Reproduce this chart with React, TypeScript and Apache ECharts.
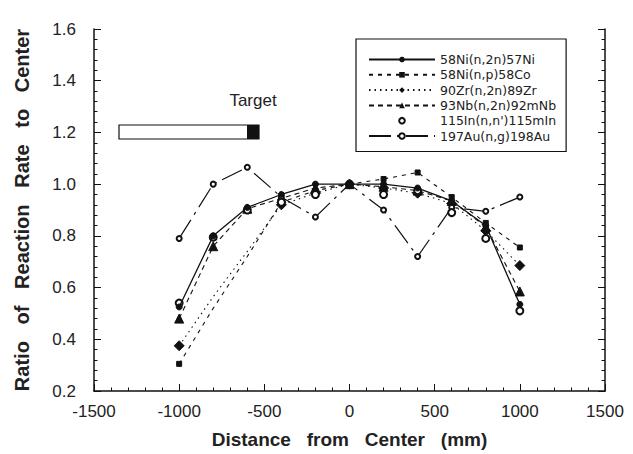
import React, { useEffect, useRef } from "react";
import * as echarts from "echarts";

// Detector positions along the axis (mm)
const positions = [-1000, -800, -600, -400, -200, 0, 200, 400, 600, 800, 1000];

// Reaction-rate ratios, normalised to the centre value
const ni57 = [0.525, 0.8, 0.91, 0.96, 1.0, 1.0, 1.0, 0.985, 0.935, 0.84, 0.535];
const co58 = [0.305, 0.52, 0.72, 0.93, 0.975, 1.0, 1.02, 1.045, 0.95, 0.85, 0.755];
const zr89 = [0.375, 0.565, 0.74, 0.92, 0.965, 1.0, 0.985, 0.965, 0.925, 0.82, 0.685];
const nb92m = [0.48, 0.76, 0.905, 0.945, 0.985, 1.0, 0.99, 0.975, 0.935, 0.835, 0.585];
const in115m = [0.54, 0.795, 0.9, 0.93, 0.96, 1.0, 0.96, 0.975, 0.89, 0.79, 0.51];
const au198 = [0.79, 1.0, 1.065, 0.95, 0.873, 1.0, 0.9, 0.72, 0.91, 0.895, 0.95];

// Curve-only points (drawn without a marker)
const coCurveOnly = [-800, -600];
const zrCurveOnly = [-800, -600];

const reactionNames = [
  "58Ni(n,2n)57Ni",
  "58Ni(n,p)58Co",
  "90Zr(n,2n)89Zr",
  "93Nb(n,2n)92mNb",
  "115In(n,n')115mIn",
  "197Au(n,g)198Au",
];

const xTicks = { min: -1500, max: 1500, step: 500 };
const yTicks = { min: 0.2, max: 1.6, step: 0.2 };

const INK = "#111";
const TEXT = "#222";
const SANS = "'Liberation Sans', Arial, Helvetica, sans-serif";

function toData(values: number[], curveOnly: number[] = []) {
  return positions.map((x, i) =>
    curveOnly.includes(x)
      ? { value: [x, values[i]], symbol: "none" }
      : { value: [x, values[i]] }
  );
}

export default function App() {
  const ref = useRef<HTMLDivElement>(null);

  useEffect(() => {
    if (!ref.current) return;
    const chart = echarts.init(ref.current, undefined, { renderer: "svg" });

    const baseSeries = {
      type: "line",
      xAxisIndex: 0,
      yAxisIndex: 0,
      color: INK,
      itemStyle: { color: INK, borderColor: INK },
      emphasis: { disabled: true },
      z: 3,
    };

    const yAxisCommon = {
      type: "value",
      min: yTicks.min,
      max: yTicks.max,
      interval: yTicks.step,
      axisLine: { show: true, onZero: false, lineStyle: { color: INK, width: 1.5 } },
      axisTick: { inside: true, length: 7, lineStyle: { color: INK } },
      minorTick: { show: true, splitNumber: 5, length: 3.5, lineStyle: { color: INK } },
      splitLine: { show: false },
    };

    const option = {
      animation: false,
      backgroundColor: "#fff",
      grid: { left: 94, right: 28, top: 29, bottom: 57 },
      legend: {
        orient: "vertical",
        left: 356,
        top: 39,
        padding: [14, 10, 9, 12],
        borderColor: INK,
        borderWidth: 1.2,
        itemWidth: 66,
        itemHeight: 7,
        itemGap: 2.3,
        selectedMode: false,
        textStyle: {
          fontFamily: "'DejaVu Sans', Verdana, sans-serif",
          fontSize: 12.5,
          lineHeight: 13,
          color: TEXT,
        },
        data: reactionNames,
      },
      xAxis: {
        type: "value",
        min: xTicks.min,
        max: xTicks.max,
        interval: xTicks.step,
        name: "Distance   from   Center   (mm)",
        nameLocation: "middle",
        nameGap: 39,
        nameTextStyle: { fontFamily: SANS, fontWeight: "bold", fontSize: 19, color: TEXT },
        axisLine: { onZero: false, lineStyle: { color: INK, width: 1.5 } },
        axisTick: { inside: true, length: 7, lineStyle: { color: INK } },
        minorTick: { show: true, splitNumber: 5, length: 3.5, lineStyle: { color: INK } },
        splitLine: { show: false },
        axisLabel: {
          margin: 12,
          fontFamily: SANS,
          fontSize: 17,
          color: TEXT,
          formatter: (v: number) => String(v),
        },
      },
      yAxis: [
        {
          ...yAxisCommon,
          position: "left",
          name: "Ratio   of   Reaction   Rate   to   Center",
          nameLocation: "middle",
          nameRotate: 90,
          nameGap: 62,
          nameTextStyle: { fontFamily: SANS, fontWeight: "bold", fontSize: 20, color: TEXT },
          axisLabel: {
            margin: 18,
            fontFamily: SANS,
            fontSize: 17,
            color: TEXT,
            formatter: (v: number) => v.toFixed(1),
          },
        },
        {
          ...yAxisCommon,
          position: "right",
          axisLabel: { show: false },
        },
      ],
      series: [
        {
          ...baseSeries,
          name: reactionNames[0],
          data: toData(ni57),
          symbol: "circle",
          symbolSize: 6,
          lineStyle: { color: INK, width: 1.3, type: "solid" },
          z: 5,
        },
        {
          ...baseSeries,
          name: reactionNames[1],
          data: toData(co58, coCurveOnly),
          symbol: "rect",
          symbolSize: 5,
          lineStyle: { color: INK, width: 1.1, type: [4, 5] },
        },
        {
          ...baseSeries,
          name: reactionNames[2],
          data: toData(zr89, zrCurveOnly),
          symbol: "diamond",
          symbolSize: 10,
          lineStyle: { color: INK, width: 1.1, type: [1.5, 4] },
        },
        {
          ...baseSeries,
          name: reactionNames[3],
          data: toData(nb92m),
          symbol: "triangle",
          symbolSize: 9,
          lineStyle: { color: INK, width: 1.1, type: [5, 4] },
        },
        {
          ...baseSeries,
          name: reactionNames[4],
          data: toData(in115m),
          symbol: "emptyCircle",
          symbolSize: 7,
          itemStyle: { color: INK, borderWidth: 1.2 },
          lineStyle: { color: INK, width: 0, opacity: 0 },
          z: 4,
        },
        {
          ...baseSeries,
          name: reactionNames[5],
          data: toData(au198),
          symbol: "emptyCircle",
          symbolSize: 5,
          itemStyle: { color: INK, borderWidth: 1.2 },
          lineStyle: { color: INK, width: 1.2, type: [22, 6, 3, 6] },
        },
      ],
      graphic: [
        {
          type: "text",
          x: 253,
          y: 100,
          style: {
            text: "Target",
            font: `17px ${SANS}`,
            fill: TEXT,
            align: "center",
            verticalAlign: "middle",
          },
        },
        {
          type: "rect",
          shape: { x: 119, y: 125, width: 140, height: 14 },
          style: { fill: "#fff", stroke: INK, lineWidth: 1.2 },
        },
        {
          type: "rect",
          shape: { x: 247, y: 125, width: 12, height: 14 },
          style: { fill: INK },
        },
      ],
    };

    chart.setOption(option as any);
    return () => chart.dispose();
  }, []);

  return (
    <div
      ref={ref}
      style={{ position: "fixed", left: 0, top: 0, width: 633, height: 454, background: "#fff" }}
    />
  );
}
